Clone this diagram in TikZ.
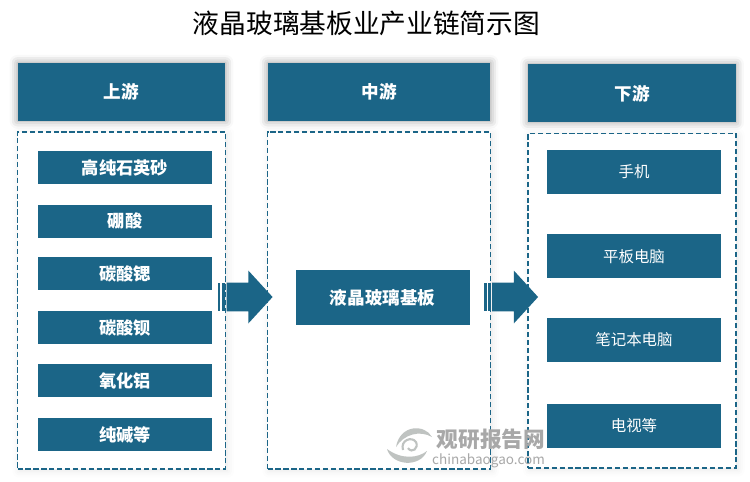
\documentclass[tikz,border=0pt]{standalone}
\usepackage{fontspec}
\setmainfont{Noto Sans CJK SC}
\usetikzlibrary{positioning,shapes.arrows,shadows.blur}
\definecolor{chainblue}{HTML}{1B6587}
\definecolor{markgray}{HTML}{A8A8A8}
\definecolor{logogray}{HTML}{BFC3C1}
\begin{document}
\begin{tikzpicture}[x=0.02cm,y=-0.02cm,
  headnode/.style={fill=chainblue,text=white,minimum width=4.16cm,minimum height=1.16cm,inner sep=0pt,font=\bfseries\fontsize{10}{12}\selectfont,
    blur shadow={shadow xshift=0pt,shadow yshift=0pt,shadow blur radius=0.16cm,shadow opacity=40}},
  itemnode/.style={fill=chainblue,text=white,minimum width=3.48cm,inner sep=0pt,font=\bfseries\fontsize{9.8}{12}\selectfont},
  framenode/.style={draw=chainblue,line width=1pt,dash pattern=on 3pt off 1.5pt,fill=white,minimum width=4.16cm,minimum height=6.74cm,inner sep=0pt,
    blur shadow={shadow xshift=1pt,shadow yshift=-1pt,shadow blur radius=0.14cm,shadow opacity=10}},
  flowarrow/.style={fill=chainblue,single arrow,single arrow head extend=0.24cm,single arrow tip angle=95,minimum height=0.92cm,inner xsep=0pt,inner ysep=0.28cm},
  flowbar/.style={fill=chainblue,minimum height=0.56cm,inner sep=0pt}
]
\useasboundingbox (0,0) rectangle (750,481);
\node[font=\fontsize{15.2}{20}\selectfont] (title) at (366.5,23) {液晶玻璃基板业产业链简示图};

% three columns
\node[headnode] (up) at (121.5,91.8) {上游};
\node[headnode,minimum width=4.46cm] (mid) at (379,91.8) {中游};
\node[headnode] (down) at (632,93.3) {下游};
\node[framenode,below=0.2cm of up] (upframe) {};
\node[framenode,minimum width=4.46cm,below=0.2cm of mid] (midframe) {};
\node[framenode,minimum height=6.69cm,below=0.2cm of down] (downframe) {};

% upstream items
\node[itemnode,minimum height=0.66cm] (u1) at (125,167.5) {高纯石英砂};
\node[itemnode,minimum height=0.66cm,below=0.4cm of u1] (u2) {硼酸};
\node[itemnode,minimum height=0.66cm,below=0.38cm of u2] (u3) {碳酸锶};
\node[itemnode,minimum height=0.66cm,below=0.4cm of u3] (u4) {碳酸钡};
\node[itemnode,minimum height=0.66cm,below=0.39cm of u4] (u5) {氧化铝};
\node[itemnode,minimum height=0.66cm,below=0.4cm of u5] (u6) {纯碱等};

% midstream
\node[itemnode,minimum height=1.1cm,font=\bfseries\fontsize{10}{12}\selectfont] (m1) at (382.7,297.5) {液晶玻璃基板};

% downstream items
\tikzset{downitem/.style={itemnode,minimum height=0.88cm,font=\fontsize{8.8}{12}\selectfont}}
\node[downitem] (d1) at (634,171.7) {手机};
\node[downitem,below=0.8cm of d1] (d2) {平板电脑};
\node[downitem,below=0.78cm of d2] (d3) {笔记本电脑};
\node[downitem,below=0.82cm of d3] (d4) {电视等};

% arrows between columns
\node[flowarrow] (a1) at (243,297) {};
\node[flowbar,minimum width=0.03cm] (b1) at (219,297) {};
\node[flowbar,minimum width=0.07cm] (c1) at (223.3,297) {};
\node[flowarrow] (a2) at (508.5,297) {};
\node[flowbar,minimum width=0.05cm] (b2) at (485.5,297) {};
\node[flowbar,minimum width=0.05cm] (c2) at (489.7,297) {};

% watermark
\node[text=markgray,font=\bfseries\fontsize{12.3}{14}\selectfont] (mark) at (491,439.5) {观研报告网};
\node[text=markgray,font=\fontsize{7.7}{9}\selectfont] (markurl) at (488.5,461) {chinabaogao.com};
\fill[logogray] (432,437) .. controls (425,424) and (400,424) .. (396,447) .. controls (404,434) and (420,430) .. (432,437);
\fill[logogray] (387,449) .. controls (392,466) and (420,468) .. (427,451) .. controls (418,458) and (402,460) .. (387,449);
\draw[logogray,line width=1.2pt] (403,450) .. controls (400,440) and (412,436) .. (416,442) .. controls (419,448) and (412,454) .. (408,448);
\end{tikzpicture}
\end{document}
